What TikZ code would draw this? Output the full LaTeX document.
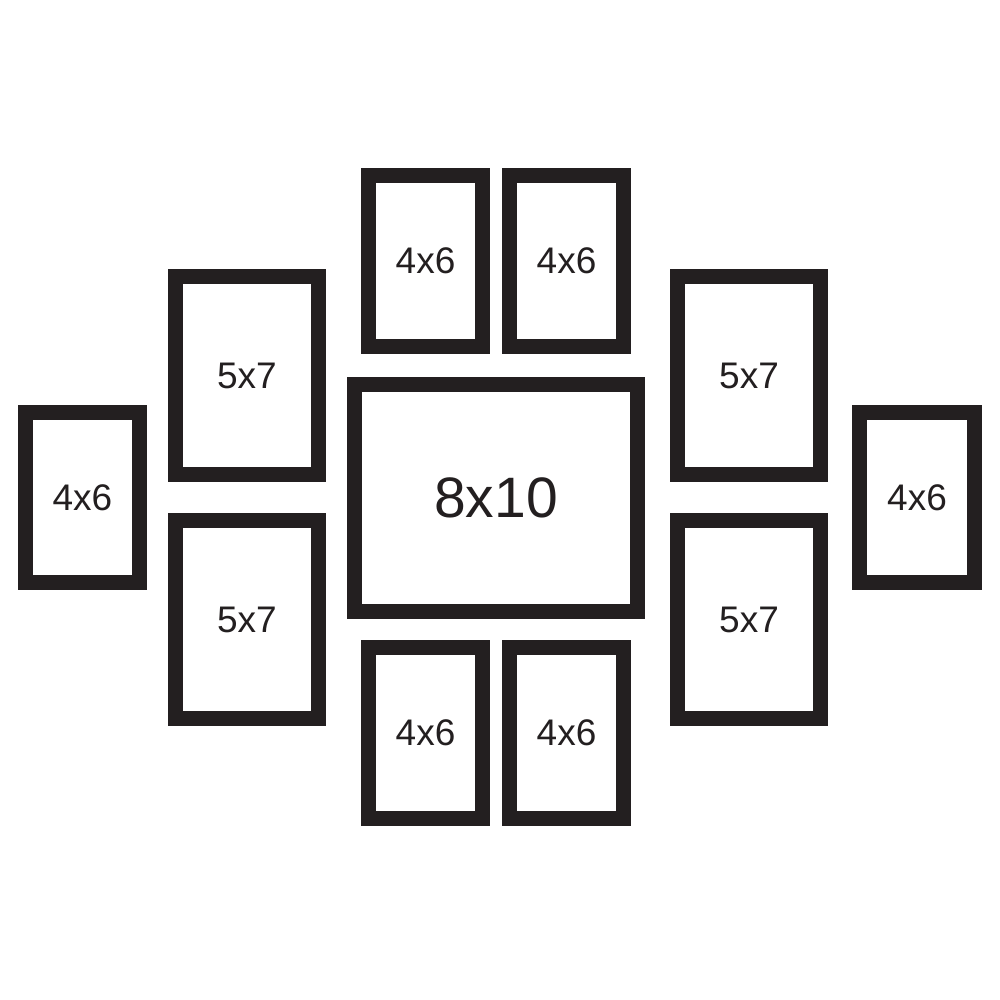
\documentclass[tikz,border=0pt]{standalone}
\usepackage{fontspec}
\setmainfont{Liberation Sans}
\definecolor{frm}{HTML}{231F20}
\begin{document}
\begin{tikzpicture}[x=1pt,y=-1pt,
  frame/.style={draw=frm,line width=15pt,inner sep=0pt,text=frm,font=\fontsize{37}{39}\selectfont}]
\useasboundingbox (0,0) rectangle (1000,1000);
\fill[white] (0,0) rectangle (1000,1000);
\def\F#1#2#3#4#5#6#7{\node[frame,minimum width=#3pt,minimum height=#4pt,#7] (#5) at (#1,#2) {#6};}
\F{82.5}{497.5}{114}{170}{lA}{4x6}{}
\F{247}{375.5}{143}{198}{lB}{5x7}{}
\F{247}{619.5}{143}{198}{lC}{5x7}{}
\F{425.5}{261}{114}{171}{tA}{4x6}{}
\F{566.5}{261}{114}{171}{tB}{4x6}{}
\F{496}{498}{283}{227}{mid}{8x10}{font=\fontsize{57}{59}\selectfont}
\F{425.5}{733}{114}{171}{bA}{4x6}{}
\F{566.5}{733}{114}{171}{bB}{4x6}{}
\F{749}{375.5}{143}{198}{rB}{5x7}{}
\F{749}{619.5}{143}{198}{rC}{5x7}{}
\F{917}{497.5}{115}{170}{rA}{4x6}{}
\end{tikzpicture}
\end{document}
